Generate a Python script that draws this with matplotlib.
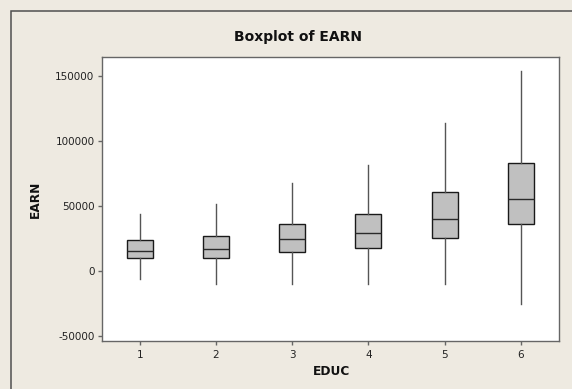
import matplotlib
matplotlib.use("Agg")
import matplotlib.pyplot as plt
from matplotlib.patches import Rectangle

# ---- data ----
educ = [1, 2, 3, 4, 5, 6]
whisker_low = [-6000, -10000, -10000, -10000, -10000, -25000]
q1 = [10200, 10200, 14800, 17700, 25600, 36100]
median = [15600, 16900, 24300, 29400, 39900, 55100]
q3 = [23800, 26900, 36100, 43500, 60900, 83200]
whisker_high = [43800, 51200, 67800, 81200, 113900, 153800]
yticks = [-50000, 0, 50000, 100000, 150000]

W, H = 572, 389
bg = "#EEEAE1"
fig = plt.figure(figsize=(W / 100, H / 100), dpi=100, facecolor=bg)

# outer frame (left/top visible, right/bottom beyond the image)
fig.patches.append(Rectangle((10.5 / W, -0.2), 2.0, 1 - 10.5 / H + 0.2,
                             transform=fig.transFigure, fill=False,
                             edgecolor="#505050", linewidth=1.1, zorder=0))

ax = fig.add_axes([101.5 / W, 1 - 340.5 / H, (559 - 101.5) / W, (340.5 - 56.5) / H])
ax.set_facecolor("white")

stats = []
for i in range(len(educ)):
    stats.append(dict(med=median[i], q1=q1[i], q3=q3[i],
                      whislo=whisker_low[i], whishi=whisker_high[i],
                      fliers=[], label=str(educ[i])))

ax.bxp(stats, positions=educ, widths=0.34, patch_artist=True, showcaps=False,
       showfliers=False,
       boxprops=dict(facecolor="#C0C0C0", edgecolor="#1a1a1a", linewidth=1.0),
       medianprops=dict(color="#2a2a2a", linewidth=1.0),
       whiskerprops=dict(color="#555555", linewidth=1.0))

ax.set_xlim(0.5, 6.5)
ax.set_ylim(-53400, 164700)
ax.set_xticks(educ)
ax.set_xticklabels([str(e) for e in educ])
ax.set_yticks(yticks)
ax.set_yticklabels([str(t) for t in yticks])

for s in ax.spines.values():
    s.set_color("#666666")
    s.set_linewidth(1.0)
ax.tick_params(axis="both", direction="out", length=3, width=1.0,
               color="#666666", labelsize=7.5, labelcolor="#222222")
ax.tick_params(axis="x", pad=4)
ax.tick_params(axis="y", pad=2)

fig.text(298 / W, 1 - 37.5 / H, "Boxplot of EARN", ha="center", va="center",
         fontsize=10, fontweight="bold", color="#111111")
fig.text(331 / W, 1 - 371.3 / H, "EDUC", ha="center", va="center",
         fontsize=8.7, fontweight="bold", color="#111111")
fig.text(35.3 / W, 1 - 199 / H, "EARN", ha="center", va="center",
         rotation=90, fontsize=8.7, fontweight="bold", color="#111111")

fig.savefig("out.png", dpi=100, facecolor=bg)
